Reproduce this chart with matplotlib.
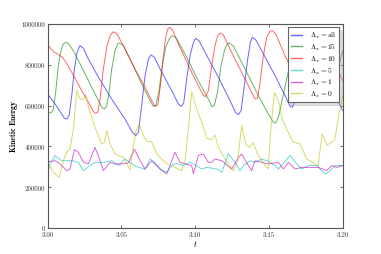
import matplotlib
matplotlib.use("Agg")
import matplotlib.pyplot as plt
from matplotlib.ticker import FormatStrFormatter, MultipleLocator

# ---- data (time, kinetic energy) ----
t_all = [3.0000, 3.0050, 3.0095, 3.0113, 3.0129, 3.0145, 3.0163, 3.0181, 3.0199, 3.0219,
         3.0242, 3.0276, 3.0344, 3.0434, 3.0524, 3.0574, 3.0597, 3.0615, 3.0637, 3.0660,
         3.0683, 3.0701, 3.0723, 3.0762, 3.0841, 3.0886, 3.0904, 3.0922, 3.0942, 3.0965,
         3.0988, 3.1003, 3.1026, 3.1067, 3.1157, 3.1247, 3.1275, 3.1293, 3.1311, 3.1333,
         3.1356, 3.1374, 3.1387, 3.1410, 3.1451, 3.1541, 3.1609, 3.1643, 3.1659, 3.1677,
         3.1699, 3.1722, 3.1745, 3.1767, 3.1812, 3.1903, 3.2000]
e_all = [657, 608, 559, 538, 534, 551, 649, 779, 861, 894,
         881, 828, 739, 632, 534, 469, 453, 469, 600, 747,
         828, 848, 837, 779, 673, 608, 596, 613, 730, 845,
         910, 930, 918, 861, 739, 608, 564, 556, 575, 698,
         828, 910, 935, 923, 869, 747, 649, 596, 592, 624,
         747, 877, 935, 935, 853, 714, 575]

t_15 = [3.0000, 3.0023, 3.0038, 3.0054, 3.0072, 3.0090, 3.0106, 3.0122, 3.0140, 3.0174,
        3.0231, 3.0298, 3.0344, 3.0366, 3.0382, 3.0400, 3.0416, 3.0434, 3.0456, 3.0475,
        3.0488, 3.0513, 3.0569, 3.0637, 3.0694, 3.0716, 3.0734, 3.0755, 3.0777, 3.0800,
        3.0823, 3.0845, 3.0868, 3.0931, 3.1021, 3.1089, 3.1112, 3.1130, 3.1153, 3.1175,
        3.1198, 3.1216, 3.1232, 3.1259, 3.1338, 3.1428, 3.1496, 3.1530, 3.1546, 3.1564,
        3.1591, 3.1625, 3.1666, 3.1699, 3.1733, 3.1835, 3.1914, 3.1937, 3.1959, 3.1982,
        3.2000]
e_15 = [567, 564, 583, 665, 796, 869, 902, 910, 904, 869,
        788, 690, 624, 592, 583, 596, 665, 779, 869, 902,
        907, 894, 812, 706, 624, 596, 603, 673, 796, 886,
        926, 943, 935, 853, 722, 632, 596, 600, 673, 796,
        869, 902, 907, 891, 779, 649, 559, 518, 515, 542,
        632, 747, 877, 926, 910, 763, 673, 678, 739, 820,
        869]

t_10 = [3.0000, 3.0023, 3.0045, 3.0072, 3.0099, 3.0122, 3.0163, 3.0231, 3.0287, 3.0310,
        3.0325, 3.0339, 3.0355, 3.0377, 3.0400, 3.0423, 3.0445, 3.0468, 3.0513, 3.0592,
        3.0660, 3.0705, 3.0728, 3.0746, 3.0764, 3.0784, 3.0800, 3.0814, 3.0827, 3.0845,
        3.0886, 3.0976, 3.1033, 3.1055, 3.1071, 3.1089, 3.1112, 3.1134, 3.1153, 3.1168,
        3.1191, 3.1247, 3.1338, 3.1388, 3.1406, 3.1422, 3.1440, 3.1462, 3.1485, 3.1507,
        3.1523, 3.1546, 3.1609, 3.1699, 3.1733, 3.1756, 3.1778, 3.1801, 3.1824, 3.1840,
        3.1869, 3.1937, 3.2000]
e_10 = [897, 877, 861, 851, 837, 815, 763, 673, 603, 570,
        562, 567, 632, 779, 886, 943, 962, 953, 894, 779,
        690, 624, 596, 603, 698, 845, 935, 975, 984, 972,
        902, 763, 681, 649, 645, 673, 796, 894, 943, 956,
        946, 861, 730, 657, 632, 636, 714, 845, 935, 964,
        967, 951, 845, 706, 673, 681, 779, 902, 951, 959,
        926, 820, 722]

t_5 = [3.0000, 3.0016, 3.0050, 3.0095, 3.0163, 3.0208, 3.0242, 3.0287, 3.0321, 3.0389,
       3.0434, 3.0479, 3.0524, 3.0558, 3.0597, 3.0660, 3.0694, 3.0728, 3.0762, 3.0807,
       3.0852, 3.0886, 3.0920, 3.0965, 3.0988, 3.1044, 3.1078, 3.1146, 3.1180, 3.1225,
       3.1270, 3.1304, 3.1327, 3.1372, 3.1406, 3.1451, 3.1485, 3.1541, 3.1564, 3.1643,
       3.1688, 3.1722, 3.1767, 3.1824, 3.1880, 3.1903, 3.1948, 3.2000]
e_5 = [270, 314, 355, 330, 330, 322, 281, 306, 322, 322,
       330, 306, 338, 322, 302, 289, 338, 319, 289, 273,
       314, 314, 306, 322, 314, 289, 297, 289, 273, 363,
       322, 281, 306, 330, 322, 338, 330, 306, 289, 355,
       314, 289, 306, 306, 265, 273, 306, 306]

t_1 = [3.0000, 3.0050, 3.0084, 3.0129, 3.0151, 3.0181, 3.0208, 3.0242, 3.0276, 3.0321,
       3.0355, 3.0377, 3.0423, 3.0456, 3.0497, 3.0547, 3.0588, 3.0626, 3.0660, 3.0705,
       3.0762, 3.0807, 3.0863, 3.0897, 3.0976, 3.0988, 3.1021, 3.1055, 3.1089, 3.1112,
       3.1134, 3.1180, 3.1247, 3.1293, 3.1315, 3.1360, 3.1383, 3.1405, 3.1451, 3.1496,
       3.1564, 3.1598, 3.1632, 3.1677, 3.1722, 3.1790, 3.1835, 3.1892, 3.1925, 3.1959,
       3.2000]
e_1 = [324, 330, 314, 281, 289, 384, 371, 322, 314, 395,
       330, 281, 322, 314, 314, 319, 387, 330, 289, 330,
       289, 265, 371, 322, 306, 265, 355, 363, 322, 322,
       338, 330, 289, 346, 363, 306, 281, 330, 322, 314,
       322, 289, 322, 289, 297, 297, 297, 281, 306, 297,
       306]

t_0 = [3.0000, 3.0038, 3.0077, 3.0106, 3.0129, 3.0151, 3.0174, 3.0197, 3.0219, 3.0242,
       3.0258, 3.0280, 3.0321, 3.0366, 3.0384, 3.0400, 3.0423, 3.0456, 3.0513, 3.0558,
       3.0581, 3.0597, 3.0619, 3.0649, 3.0671, 3.0705, 3.0739, 3.0795, 3.0863, 3.0908,
       3.0931, 3.0954, 3.0976, 3.1010, 3.1044, 3.1078, 3.1112, 3.1134, 3.1157, 3.1202,
       3.1259, 3.1288, 3.1315, 3.1342, 3.1365, 3.1394, 3.1428, 3.1494, 3.1515, 3.1537,
       3.1564, 3.1591, 3.1620, 3.1663, 3.1711, 3.1756, 3.1792, 3.1833, 3.1860, 3.1894,
       3.1925, 3.1948, 3.1968, 3.2000]
e_0 = [322, 273, 248, 330, 371, 387, 485, 673, 632, 632,
       652, 583, 493, 412, 420, 477, 412, 363, 346, 286,
       404, 469, 510, 453, 425, 423, 363, 322, 297, 281,
       330, 485, 668, 583, 518, 440, 433, 456, 395, 338,
       281, 330, 502, 412, 395, 417, 355, 289, 502, 665,
       624, 534, 485, 422, 412, 338, 324, 304, 461, 407,
       420, 436, 534, 649]

labels = [r'$\Lambda_x = \mathrm{all}$', r'$\Lambda_x = 15$', r'$\Lambda_x = 10$',
          r'$\Lambda_x = 5$', r'$\Lambda_x = 1$', r'$\Lambda_x = 0$']
colors = ['b', 'g', 'r', 'c', 'm', 'y']
series = [(t_all, e_all), (t_15, e_15), (t_10, e_10), (t_5, e_5), (t_1, e_1), (t_0, e_0)]

plt.rcParams['font.family'] = ['cmr10']
plt.rcParams['mathtext.fontset'] = 'cm'
plt.rcParams['axes.formatter.use_mathtext'] = True

fig = plt.figure(figsize=(3.81, 2.55), dpi=100)
ax = fig.add_axes([0.1252, 0.102, 0.7743, 0.800])

for (t, e), c, lab in zip(series, colors, labels):
    ax.plot(t, [v * 1000 for v in e], color=c, lw=0.7, alpha=0.6, label=lab)

ax.set_xlim(3.0, 3.2)
ax.set_ylim(0, 1000000)
ax.xaxis.set_major_locator(MultipleLocator(0.05))
ax.yaxis.set_major_locator(MultipleLocator(200000))
ax.xaxis.set_major_formatter(FormatStrFormatter('%.2f'))
ax.yaxis.set_major_formatter(FormatStrFormatter('%d'))
ax.tick_params(direction='in', length=2.5, width=0.5, labelsize=5, pad=2,
               top=True, right=True, colors='#333333')
for sp in ax.spines.values():
    sp.set_linewidth(0.8)
    sp.set_color('#555555')

ax.set_xlabel(r'$t$', fontsize=6, labelpad=1)
ax.set_ylabel('Kinetic Energy', fontsize=5.5, family='cmb10', labelpad=2)

leg = ax.legend(loc='upper right', fontsize=5.3, frameon=True, fancybox=False,
                shadow={'color': '#999999', 'alpha': 0.3},
                handlelength=1.6, handletextpad=1.0, labelspacing=0.2,
                borderaxespad=0.45, borderpad=0.4)
leg.get_frame().set_linewidth(0.8)
leg.get_frame().set_edgecolor('#666666')
for h in leg.get_lines():
    h.set_linewidth(1.0)

fig.savefig('out.png', dpi=100)
